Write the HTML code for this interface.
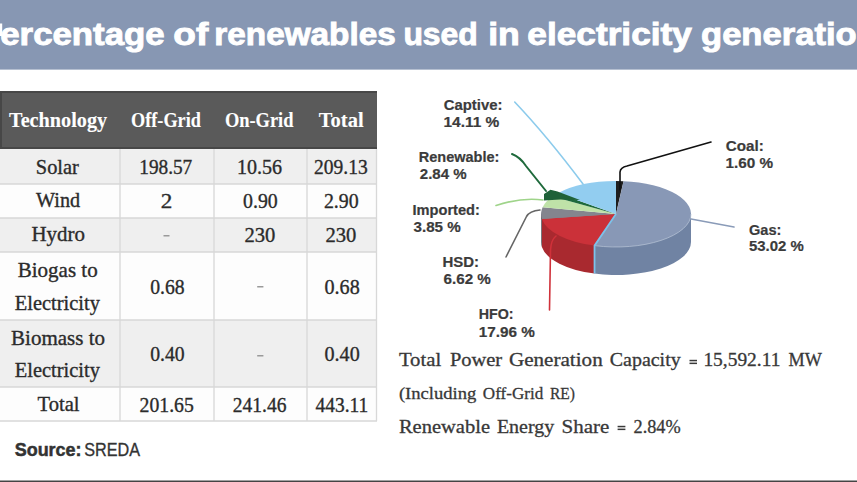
<!DOCTYPE html>
<html><head><meta charset="utf-8">
<style>
html,body{margin:0;padding:0;background:#fff;width:857px;height:482px;overflow:hidden}
svg{display:block}
</style></head><body>
<svg width="857" height="482" viewBox="0 0 857 482">
<rect x="0" y="0" width="857" height="482" fill="#fff"/>
<rect x="0" y="0" width="857" height="69.6" fill="#8797b3"/>
<rect x="0" y="23.5" width="2.2" height="12.5" fill="#fff"/>
<g font-family="Liberation Sans" font-size="30.5" font-weight="bold" fill="#fff" stroke="#fff" stroke-width="0.9"><text x="-22.96" y="45" textLength="187.62" lengthAdjust="spacingAndGlyphs">Percentage</text><text x="701" y="45" textLength="176.8" lengthAdjust="spacingAndGlyphs">generation</text></g>
<rect x="0" y="91" width="377" height="58" fill="#5a5a5a"/>
<path d="M0 92H377M1 91V149M0 148H377" stroke="#474747" stroke-width="2" fill="none"/>
<rect x="0" y="149" width="377" height="35" fill="#efefef"/>
<rect x="0" y="184" width="377" height="34" fill="#fdfdfd"/>
<rect x="0" y="218" width="377" height="34" fill="#efefef"/>
<rect x="0" y="252" width="377" height="68" fill="#fdfdfd"/>
<rect x="0" y="320" width="377" height="67" fill="#efefef"/>
<rect x="0" y="387" width="377" height="34" fill="#fdfdfd"/>
<g stroke="#d8d8d8" stroke-width="1.3" fill="none"><path d="M0 184H377M0 218H377M0 252H377M0 320H377M0 387H377M0 421H377"/><path d="M120 149V421M214 149V421M307 149V421M376.5 149V421"/></g>
<rect x="163.5" y="235" width="6.0" height="1.5" fill="#9a9a9a"/>
<rect x="257.2" y="286" width="6.199999999999989" height="1.5" fill="#9a9a9a"/>
<rect x="257.2" y="355" width="6.199999999999989" height="1.5" fill="#9a9a9a"/>
<path d="M616 214L691.00 214.00L691.00 242.00A75 33 0 0 1 594.53 273.62L594.53 245.62Z" fill="#7083a3"/>
<path d="M616 214L594.53 245.62L594.53 273.62A75 33 0 0 1 541.87 247.00L541.87 219.00Z" fill="#a9292f"/>
<path d="M616 214L541.87 219.00L541.87 247.00A75 33 0 0 1 541.00 242.00L541.00 214.00Z" fill="#65666c"/>
<path d="M616 214L616.00 181.00A75 33 0 0 1 623.53 181.17Z" fill="#1e1e1e"/>
<path d="M616 214L623.53 181.17A75 33 0 1 1 594.53 245.62Z" fill="#8898b6"/>
<path d="M616 214L594.53 245.62A75 33 0 0 1 541.87 219.00Z" fill="#cb3139"/>
<path d="M616 214L541.87 219.00A75 33 0 0 1 542.64 207.14Z" fill="#84858e"/>
<path d="M616 214L542.64 207.14A75 33 0 0 1 552.40 196.51Z" fill="#bfe2a8"/>
<path d="M616 214L552.40 196.51A75 33 0 0 1 557.88 193.14Z" fill="#1f6a3c"/>
<path d="M616 214L557.88 193.14A75 33 0 0 1 616.00 181.00Z" fill="#92cdf0"/>
<path d="M691.00 214.00A75 33 0 0 1 594.95 245.67" fill="none" stroke="#b8c4d6" stroke-width="0.9" opacity="0.8"/>
<path d="M616 214L594.53 245.62L594.53 273.62" fill="none" stroke="#7cc2ea" stroke-width="1.8"/>
<path d="M544 194L550.5 189.8L557.5 191.5L580 200L560 199.5L544 200.5Z" fill="#1f6138"/>
<g fill="none" stroke-width="1.6" stroke-linecap="round">
<path d="M514.7 102Q547 136 583 184" stroke="#8ccbec"/>
<path d="M512 154Q520 157 526 166L546 191" stroke="#1f6a3c" stroke-width="2"/>
<path d="M496 205.5Q522 197 543 200" stroke="#9fd48a"/>
<path d="M506 257L526.5 216.5Q529.5 211 540 210" stroke="#666"/>
<path d="M549.5 310L550.5 250Q551 240 556 236" stroke="#d0313a"/>
<path d="M620 190L620 172Q620.5 167.5 627 166L711 142" stroke="#111"/>
<path d="M691 219L734 227" stroke="#8a9bb8"/>
</g>
<text x="173.29" y="45" font-family="Liberation Sans" font-size="30.5" font-weight="bold" fill="#fff" stroke="#fff" stroke-width="0.9" textLength="34.97" lengthAdjust="spacingAndGlyphs">of</text>
<text x="214.32" y="45" font-family="Liberation Sans" font-size="30.5" font-weight="bold" fill="#fff" stroke="#fff" stroke-width="0.9" textLength="181.45" lengthAdjust="spacingAndGlyphs">renewables</text>
<text x="403.41" y="45" font-family="Liberation Sans" font-size="30.5" font-weight="bold" fill="#fff" stroke="#fff" stroke-width="0.9" textLength="74.33" lengthAdjust="spacingAndGlyphs">used</text>
<text x="488.17" y="45" font-family="Liberation Sans" font-size="30.5" font-weight="bold" fill="#fff" stroke="#fff" stroke-width="0.9" textLength="31.63" lengthAdjust="spacingAndGlyphs">in</text>
<text x="527.35" y="45" font-family="Liberation Sans" font-size="30.5" font-weight="bold" fill="#fff" stroke="#fff" stroke-width="0.9" textLength="164.49" lengthAdjust="spacingAndGlyphs">electricity</text>
<text x="9.00" y="126.5" font-family="Liberation Serif" font-size="20" font-weight="bold" fill="#fff" stroke="#fff" stroke-width="0.1" textLength="98.16" lengthAdjust="spacingAndGlyphs">Technology</text>
<text x="131.09" y="126.5" font-family="Liberation Serif" font-size="20" font-weight="bold" fill="#fff" stroke="#fff" stroke-width="0.1" textLength="69.80" lengthAdjust="spacingAndGlyphs">Off-Grid</text>
<text x="224.88" y="126.5" font-family="Liberation Serif" font-size="20" font-weight="bold" fill="#fff" stroke="#fff" stroke-width="0.1" textLength="68.62" lengthAdjust="spacingAndGlyphs">On-Grid</text>
<text x="318.80" y="126.5" font-family="Liberation Serif" font-size="20" font-weight="bold" fill="#fff" stroke="#fff" stroke-width="0.1" textLength="44.83" lengthAdjust="spacingAndGlyphs">Total</text>
<text x="35.83" y="173.6" font-family="Liberation Serif" font-size="21" font-weight="normal" fill="#2b2b2b" stroke="#2b2b2b" stroke-width="0.35" textLength="43.02" lengthAdjust="spacingAndGlyphs">Solar</text>
<text x="139.26" y="174" font-family="Liberation Serif" font-size="21" font-weight="normal" fill="#2b2b2b" stroke="#2b2b2b" stroke-width="0.35" textLength="53.01" lengthAdjust="spacingAndGlyphs">198.57</text>
<text x="236.89" y="174" font-family="Liberation Serif" font-size="21" font-weight="normal" fill="#2b2b2b" stroke="#2b2b2b" stroke-width="0.35" textLength="45.15" lengthAdjust="spacingAndGlyphs">10.56</text>
<text x="314.07" y="174" font-family="Liberation Serif" font-size="21" font-weight="normal" fill="#2b2b2b" stroke="#2b2b2b" stroke-width="0.35" textLength="53.62" lengthAdjust="spacingAndGlyphs">209.13</text>
<text x="36.10" y="207.4" font-family="Liberation Serif" font-size="21" font-weight="normal" fill="#2b2b2b" stroke="#2b2b2b" stroke-width="0.35" textLength="44.03" lengthAdjust="spacingAndGlyphs">Wind</text>
<text x="160.70" y="207.6" font-family="Liberation Serif" font-size="21" font-weight="normal" fill="#2b2b2b" stroke="#2b2b2b" stroke-width="0.35" textLength="11.55" lengthAdjust="spacingAndGlyphs">2</text>
<text x="243.00" y="207.6" font-family="Liberation Serif" font-size="21" font-weight="normal" fill="#2b2b2b" stroke="#2b2b2b" stroke-width="0.35" textLength="34.71" lengthAdjust="spacingAndGlyphs">0.90</text>
<text x="323.95" y="207.6" font-family="Liberation Serif" font-size="21" font-weight="normal" fill="#2b2b2b" stroke="#2b2b2b" stroke-width="0.35" textLength="34.76" lengthAdjust="spacingAndGlyphs">2.90</text>
<text x="31.50" y="241.4" font-family="Liberation Serif" font-size="21" font-weight="normal" fill="#2b2b2b" stroke="#2b2b2b" stroke-width="0.35" textLength="53.47" lengthAdjust="spacingAndGlyphs">Hydro</text>
<text x="244.52" y="241.5" font-family="Liberation Serif" font-size="21" font-weight="normal" fill="#2b2b2b" stroke="#2b2b2b" stroke-width="0.35" textLength="30.87" lengthAdjust="spacingAndGlyphs">230</text>
<text x="325.52" y="241.5" font-family="Liberation Serif" font-size="21" font-weight="normal" fill="#2b2b2b" stroke="#2b2b2b" stroke-width="0.35" textLength="30.87" lengthAdjust="spacingAndGlyphs">230</text>
<text x="17.70" y="277.2" font-family="Liberation Serif" font-size="21" font-weight="normal" fill="#2b2b2b" stroke="#2b2b2b" stroke-width="0.35" textLength="80.02" lengthAdjust="spacingAndGlyphs">Biogas to</text>
<text x="14.80" y="310" font-family="Liberation Serif" font-size="21" font-weight="normal" fill="#2b2b2b" stroke="#2b2b2b" stroke-width="0.35" textLength="85.08" lengthAdjust="spacingAndGlyphs">Electricity</text>
<text x="150.20" y="293.6" font-family="Liberation Serif" font-size="21" font-weight="normal" fill="#2b2b2b" stroke="#2b2b2b" stroke-width="0.35" textLength="34.40" lengthAdjust="spacingAndGlyphs">0.68</text>
<text x="324.50" y="293.6" font-family="Liberation Serif" font-size="21" font-weight="normal" fill="#2b2b2b" stroke="#2b2b2b" stroke-width="0.35" textLength="35.22" lengthAdjust="spacingAndGlyphs">0.68</text>
<text x="11.10" y="345.2" font-family="Liberation Serif" font-size="21" font-weight="normal" fill="#2b2b2b" stroke="#2b2b2b" stroke-width="0.35" textLength="93.94" lengthAdjust="spacingAndGlyphs">Biomass to</text>
<text x="14.80" y="377.1" font-family="Liberation Serif" font-size="21" font-weight="normal" fill="#2b2b2b" stroke="#2b2b2b" stroke-width="0.35" textLength="85.08" lengthAdjust="spacingAndGlyphs">Electricity</text>
<text x="150.20" y="360.8" font-family="Liberation Serif" font-size="21" font-weight="normal" fill="#2b2b2b" stroke="#2b2b2b" stroke-width="0.35" textLength="34.40" lengthAdjust="spacingAndGlyphs">0.40</text>
<text x="324.50" y="360.8" font-family="Liberation Serif" font-size="21" font-weight="normal" fill="#2b2b2b" stroke="#2b2b2b" stroke-width="0.35" textLength="35.22" lengthAdjust="spacingAndGlyphs">0.40</text>
<text x="37.60" y="411" font-family="Liberation Serif" font-size="21" font-weight="normal" fill="#2b2b2b" stroke="#2b2b2b" stroke-width="0.35" textLength="41.96" lengthAdjust="spacingAndGlyphs">Total</text>
<text x="139.56" y="411.5" font-family="Liberation Serif" font-size="21" font-weight="normal" fill="#2b2b2b" stroke="#2b2b2b" stroke-width="0.35" textLength="54.24" lengthAdjust="spacingAndGlyphs">201.65</text>
<text x="232.87" y="411.5" font-family="Liberation Serif" font-size="21" font-weight="normal" fill="#2b2b2b" stroke="#2b2b2b" stroke-width="0.35" textLength="53.60" lengthAdjust="spacingAndGlyphs">241.46</text>
<text x="315.50" y="411.5" font-family="Liberation Serif" font-size="21" font-weight="normal" fill="#2b2b2b" stroke="#2b2b2b" stroke-width="0.35" textLength="52.71" lengthAdjust="spacingAndGlyphs">443.11</text>
<text x="443.70" y="109.6" font-family="Liberation Sans" font-size="14" font-weight="bold" fill="#3b3b3b" stroke="#3b3b3b" stroke-width="0.2" textLength="58.71" lengthAdjust="spacingAndGlyphs">Captive:</text>
<text x="443.50" y="127.1" font-family="Liberation Sans" font-size="14" font-weight="bold" fill="#3b3b3b" stroke="#3b3b3b" stroke-width="0.2" textLength="55.87" lengthAdjust="spacingAndGlyphs">14.11 %</text>
<text x="418.76" y="161.9" font-family="Liberation Sans" font-size="14" font-weight="bold" fill="#3b3b3b" stroke="#3b3b3b" stroke-width="0.2" textLength="80.58" lengthAdjust="spacingAndGlyphs">Renewable:</text>
<text x="419.80" y="178.7" font-family="Liberation Sans" font-size="14" font-weight="bold" fill="#3b3b3b" stroke="#3b3b3b" stroke-width="0.2" textLength="46.86" lengthAdjust="spacingAndGlyphs">2.84 %</text>
<text x="412.46" y="214.6" font-family="Liberation Sans" font-size="14" font-weight="bold" fill="#3b3b3b" stroke="#3b3b3b" stroke-width="0.2" textLength="67.43" lengthAdjust="spacingAndGlyphs">Imported:</text>
<text x="413.50" y="231.7" font-family="Liberation Sans" font-size="14" font-weight="bold" fill="#3b3b3b" stroke="#3b3b3b" stroke-width="0.2" textLength="47.26" lengthAdjust="spacingAndGlyphs">3.85 %</text>
<text x="442.53" y="266.7" font-family="Liberation Sans" font-size="14" font-weight="bold" fill="#3b3b3b" stroke="#3b3b3b" stroke-width="0.2" textLength="36.59" lengthAdjust="spacingAndGlyphs">HSD:</text>
<text x="443.60" y="283.8" font-family="Liberation Sans" font-size="14" font-weight="bold" fill="#3b3b3b" stroke="#3b3b3b" stroke-width="0.2" textLength="47.26" lengthAdjust="spacingAndGlyphs">6.62 %</text>
<text x="478.78" y="319" font-family="Liberation Sans" font-size="14" font-weight="bold" fill="#3b3b3b" stroke="#3b3b3b" stroke-width="0.2" textLength="34.86" lengthAdjust="spacingAndGlyphs">HFO:</text>
<text x="478.71" y="336.5" font-family="Liberation Sans" font-size="14" font-weight="bold" fill="#3b3b3b" stroke="#3b3b3b" stroke-width="0.2" textLength="56.11" lengthAdjust="spacingAndGlyphs">17.96 %</text>
<text x="725.80" y="151" font-family="Liberation Sans" font-size="14" font-weight="bold" fill="#3b3b3b" stroke="#3b3b3b" stroke-width="0.2" textLength="37.99" lengthAdjust="spacingAndGlyphs">Coal:</text>
<text x="725.51" y="167.7" font-family="Liberation Sans" font-size="14" font-weight="bold" fill="#3b3b3b" stroke="#3b3b3b" stroke-width="0.2" textLength="47.55" lengthAdjust="spacingAndGlyphs">1.60 %</text>
<text x="749.00" y="234.6" font-family="Liberation Sans" font-size="14" font-weight="bold" fill="#3b3b3b" stroke="#3b3b3b" stroke-width="0.2" textLength="32.37" lengthAdjust="spacingAndGlyphs">Gas:</text>
<text x="749.00" y="251.3" font-family="Liberation Sans" font-size="14" font-weight="bold" fill="#3b3b3b" stroke="#3b3b3b" stroke-width="0.2" textLength="54.83" lengthAdjust="spacingAndGlyphs">53.02 %</text>
<text x="398.90" y="366.2" font-family="Liberation Serif" font-size="18.5" font-weight="normal" fill="#383838" stroke="#383838" stroke-width="0.3" textLength="42.32" lengthAdjust="spacingAndGlyphs">Total</text>
<text x="449.90" y="366.2" font-family="Liberation Serif" font-size="18.5" font-weight="normal" fill="#383838" stroke="#383838" stroke-width="0.3" textLength="52.31" lengthAdjust="spacingAndGlyphs">Power</text>
<text x="508.90" y="366.2" font-family="Liberation Serif" font-size="18.5" font-weight="normal" fill="#383838" stroke="#383838" stroke-width="0.3" textLength="93.81" lengthAdjust="spacingAndGlyphs">Generation</text>
<text x="609.70" y="366.2" font-family="Liberation Serif" font-size="18.5" font-weight="normal" fill="#383838" stroke="#383838" stroke-width="0.3" textLength="71.05" lengthAdjust="spacingAndGlyphs">Capacity</text>
<text x="703.40" y="366.2" font-family="Liberation Serif" font-size="18.5" font-weight="normal" fill="#383838" stroke="#383838" stroke-width="0.3" textLength="76.99" lengthAdjust="spacingAndGlyphs">15,592.11</text>
<text x="788.50" y="366.2" font-family="Liberation Serif" font-size="18.5" font-weight="normal" fill="#383838" stroke="#383838" stroke-width="0.3" textLength="33.32" lengthAdjust="spacingAndGlyphs">MW</text>
<text x="398.90" y="399" font-family="Liberation Serif" font-size="17.5" font-weight="normal" fill="#383838" stroke="#383838" stroke-width="0.3" textLength="77.40" lengthAdjust="spacingAndGlyphs">(Including</text>
<text x="482.80" y="399" font-family="Liberation Serif" font-size="17.5" font-weight="normal" fill="#383838" stroke="#383838" stroke-width="0.3" textLength="60.39" lengthAdjust="spacingAndGlyphs">Off-Grid</text>
<text x="550.00" y="399" font-family="Liberation Serif" font-size="17.5" font-weight="normal" fill="#383838" stroke="#383838" stroke-width="0.3" textLength="24.98" lengthAdjust="spacingAndGlyphs">RE)</text>
<text x="398.90" y="432.6" font-family="Liberation Serif" font-size="18.5" font-weight="normal" fill="#383838" stroke="#383838" stroke-width="0.3" textLength="91.11" lengthAdjust="spacingAndGlyphs">Renewable</text>
<text x="496.90" y="432.6" font-family="Liberation Serif" font-size="18.5" font-weight="normal" fill="#383838" stroke="#383838" stroke-width="0.3" textLength="57.40" lengthAdjust="spacingAndGlyphs">Energy</text>
<text x="561.47" y="432.6" font-family="Liberation Serif" font-size="18.5" font-weight="normal" fill="#383838" stroke="#383838" stroke-width="0.3" textLength="47.78" lengthAdjust="spacingAndGlyphs">Share</text>
<text x="633.50" y="432.6" font-family="Liberation Serif" font-size="18.5" font-weight="normal" fill="#383838" stroke="#383838" stroke-width="0.3" textLength="47.20" lengthAdjust="spacingAndGlyphs">2.84%</text>
<text x="14.70" y="456.3" font-family="Liberation Sans" font-size="19" font-weight="bold" fill="#333" stroke="#333" stroke-width="0.5" textLength="66.85" lengthAdjust="spacingAndGlyphs">Source:</text>
<text x="84.15" y="456.3" font-family="Liberation Sans" font-size="19" font-weight="normal" fill="#333" stroke="#333" stroke-width="0.35" textLength="55.80" lengthAdjust="spacingAndGlyphs">SREDA</text><g fill="#3a3a3a"><rect x="689.5" y="359.8" width="7.5" height="1.5"/><rect x="689.5" y="362.6" width="7.5" height="1.5"/><rect x="617.6" y="425.8" width="7.8" height="1.5"/><rect x="617.6" y="428.6" width="7.8" height="1.5"/></g>
<rect x="0" y="480.5" width="857" height="1.5" fill="#444"/>
</svg>
</body></html>
